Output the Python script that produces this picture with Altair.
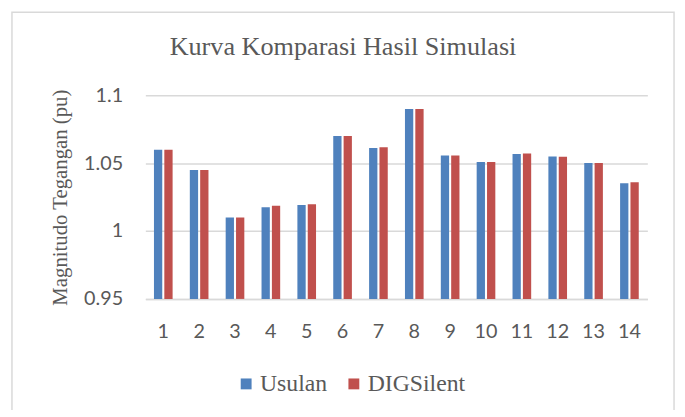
import altair as alt
import pandas as pd

buses = ["1", "2", "3", "4", "5", "6", "7", "8", "9", "10", "11", "12", "13", "14"]
usulan = [1.060, 1.045, 1.010, 1.0175, 1.0192, 1.070, 1.0613, 1.090, 1.0557, 1.0509, 1.0567, 1.0550, 1.0501, 1.0353]
digsilent = [1.060, 1.045, 1.010, 1.0187, 1.0197, 1.070, 1.0618, 1.090, 1.0557, 1.0509, 1.0572, 1.0547, 1.0501, 1.0360]
series = ["Usulan", "DIGSilent"]
colors = ["#4F81BD", "#C0504D"]

rows = []
for i, b in enumerate(buses):
    rows.append({"Bus": b, "Seri": series[0], "Nilai": usulan[i]})
    rows.append({"Bus": b, "Seri": series[1], "Nilai": digsilent[i]})
df = pd.DataFrame(rows)

GRAY = "#595959"
GRID = "#D9D9D9"
SERIF = "'Liberation Serif', 'Times New Roman', serif"

frame = alt.Chart(alt.Data(values=[{"a": 1}])).mark_rect(
    filled=False, stroke=GRID, strokeWidth=1.5
).encode(
    x=alt.value(-135), x2=alt.value(535), y=alt.value(-84), y2=alt.value(340)
)

bars = alt.Chart(df).mark_bar().encode(
    x=alt.X("Bus:N", sort=buses,
            scale=alt.Scale(paddingInner=0.48, paddingOuter=0.24),
            axis=alt.Axis(title=None, labelAngle=0, ticks=False, domain=True,
                          domainColor=GRID, domainWidth=1.5,
                          labelFont="Lato", labelFontSize=20, labelColor=GRAY,
                          labelPadding=23)),
    xOffset=alt.XOffset("Seri:N", sort=series,
                        scale=alt.Scale(paddingInner=0.2, paddingOuter=0)),
    y=alt.Y("Nilai:Q",
            scale=alt.Scale(domain=[0.95, 1.1], nice=False, zero=False),
            axis=alt.Axis(title="Magnitudo Tegangan (pu)", values=[0.95, 1.0, 1.05, 1.1],
                          format=".2~f", ticks=False, domain=False,
                          grid=True, gridColor=GRID, gridWidth=1.5,
                          labelFont="Lato", labelFontSize=20, labelColor=GRAY,
                          labelPadding=23,
                          titleFont=SERIF, titleFontSize=21,
                          titleFontWeight="normal", titleColor=GRAY,
                          titleX=-86, titleY=103, titleAngle=-90,
                          titleBaseline="middle", titleAlign="center")),
    y2=alt.datum(0.95),
    color=alt.Color("Seri:N", sort=series,
                    scale=alt.Scale(domain=series, range=colors),
                    legend=alt.Legend(title=None, orient="none", direction="horizontal",
                                      legendX=90, legendY=280,
                                      symbolType="square", symbolSize=121,
                                      symbolStrokeWidth=0,
                                      labelFont=SERIF, labelFontSize=24,
                                      labelColor=GRAY, labelOffset=2,
                                      columnPadding=15)),
)

chart = alt.layer(frame, bars).properties(
    width=508,
    height=206,
    autosize=alt.AutoSizeParams(type="none"),
    padding={"left": 139, "top": 86, "right": 30, "bottom": 110},
    title=alt.TitleParams(
        text="Kurva Komparasi Hasil Simulasi",
        font=SERIF, fontSize=26.5, fontWeight="normal", color=GRAY,
        anchor="middle", frame="group", dx=-54, baseline="alphabetic", offset=-70
    ),
).configure_view(stroke=None)

chart.save("out.html", embed_options={"renderer": "svg", "actions": False})
